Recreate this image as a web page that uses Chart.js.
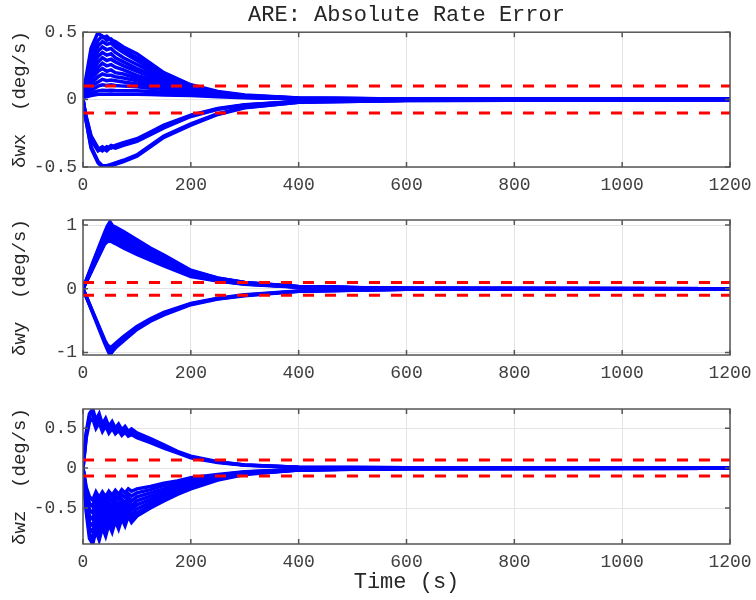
<!DOCTYPE html>
<html>
<head>
<meta charset="utf-8">
<script src="https://cdn.jsdelivr.net/npm/chart.js@4.4.0/dist/chart.umd.min.js"></script>
<style>
  html, body { margin: 0; padding: 0; background: #fff; }
  .panel { position: absolute; left: 0; width: 756px; }
</style>
</head>
<body>
<div class="panel" style="top:0;height:195px"><canvas id="cx"></canvas></div>
<div class="panel" style="top:195px;height:185px"><canvas id="cy"></canvas></div>
<div class="panel" style="top:380px;height:220px"><canvas id="cz"></canvas></div>
<script>
// time grids (s)
const timeX = [0, 5, 15, 28, 36, 44, 52, 60, 75, 100, 125, 150, 200, 250, 300, 400, 600, 1200];
const timeY = [0, 20, 40, 45, 50, 55, 60, 75, 100, 125, 150, 200, 250, 300, 400, 600, 1200];
const timeZ = [0, 6, 12, 18, 24, 30, 36, 42, 48, 54, 60, 66, 72, 78, 84, 90, 100, 125, 150, 175, 200, 250, 300, 400, 600, 1200];

// δwx runs (deg/s)
const wxRuns = [
  [0.02, 0.15, 0.38, 0.50, 0.46, 0.47, 0.44, 0.43, 0.39, 0.34, 0.27, 0.20, 0.11, 0.06, 0.035, 0.012, 0.004, 0.002],
  [0.02, 0.12, 0.33, 0.44, 0.47, 0.44, 0.45, 0.42, 0.37, 0.31, 0.25, 0.19, 0.10, 0.055, 0.03, 0.011, 0.004, 0.002],
  [0.02, 0.10, 0.29, 0.40, 0.43, 0.41, 0.42, 0.39, 0.35, 0.29, 0.23, 0.17, 0.095, 0.05, 0.028, 0.01, 0.004, 0.002],
  [0.02, 0.09, 0.26, 0.36, 0.39, 0.37, 0.38, 0.35, 0.31, 0.26, 0.21, 0.16, 0.09, 0.05, 0.027, 0.01, 0.004, 0.002],
  [0.02, 0.08, 0.23, 0.32, 0.35, 0.33, 0.34, 0.31, 0.28, 0.23, 0.19, 0.145, 0.085, 0.045, 0.025, 0.009, 0.003, 0.002],
  [0.02, 0.07, 0.20, 0.28, 0.31, 0.29, 0.30, 0.28, 0.25, 0.21, 0.17, 0.13, 0.08, 0.043, 0.024, 0.009, 0.003, 0.002],
  [0.02, 0.06, 0.17, 0.24, 0.27, 0.25, 0.26, 0.24, 0.22, 0.18, 0.15, 0.12, 0.075, 0.04, 0.022, 0.008, 0.003, 0.002],
  [0.02, 0.05, 0.15, 0.21, 0.23, 0.21, 0.22, 0.20, 0.19, 0.16, 0.13, 0.105, 0.07, 0.038, 0.021, 0.008, 0.003, 0.002],
  [0.02, 0.05, 0.12, 0.17, 0.19, 0.18, 0.18, 0.17, 0.16, 0.14, 0.115, 0.095, 0.065, 0.036, 0.02, 0.008, 0.003, 0.002],
  [0.02, 0.04, 0.10, 0.13, 0.15, 0.14, 0.145, 0.14, 0.13, 0.115, 0.10, 0.085, 0.06, 0.034, 0.019, 0.007, 0.003, 0.002],
  [0.02, 0.03, 0.07, 0.10, 0.11, 0.105, 0.11, 0.105, 0.10, 0.095, 0.085, 0.075, 0.055, 0.032, 0.018, 0.007, 0.003, 0.002],
  [0.02, 0.03, 0.05, 0.065, 0.07, 0.068, 0.07, 0.068, 0.066, 0.065, 0.06, 0.055, 0.045, 0.03, 0.017, 0.007, 0.003, 0.002],
  [0.02, 0.02, 0.03, 0.04, 0.04, 0.04, 0.042, 0.04, 0.04, 0.04, 0.038, 0.035, 0.03, 0.022, 0.014, 0.006, 0.003, 0.002],
  [0.0, -0.12, -0.28, -0.37, -0.35, -0.37, -0.34, -0.35, -0.33, -0.30, -0.25, -0.20, -0.12, -0.07, -0.04, -0.015, -0.005, -0.002],
  [0.0, -0.11, -0.27, -0.36, -0.38, -0.35, -0.36, -0.34, -0.32, -0.29, -0.24, -0.19, -0.115, -0.065, -0.038, -0.014, -0.005, -0.002],
  [0.0, -0.13, -0.30, -0.38, -0.36, -0.38, -0.35, -0.36, -0.34, -0.31, -0.26, -0.21, -0.125, -0.072, -0.042, -0.015, -0.005, -0.002],
  [0.0, -0.14, -0.36, -0.47, -0.50, -0.50, -0.49, -0.48, -0.46, -0.42, -0.35, -0.28, -0.19, -0.11, -0.06, -0.02, -0.006, -0.002],
  [0.0, -0.14, -0.35, -0.46, -0.49, -0.49, -0.48, -0.47, -0.45, -0.41, -0.34, -0.27, -0.18, -0.105, -0.058, -0.02, -0.006, -0.002]
];

// δwy runs (deg/s)
const wyRuns = [
  [0, 0.45, 0.88, 0.98, 1.05, 0.99, 0.97, 0.90, 0.77, 0.64, 0.53, 0.29, 0.17, 0.10, 0.035, 0.005, 0.002],
  [0, 0.43, 0.85, 0.95, 1.00, 0.97, 0.94, 0.87, 0.74, 0.62, 0.51, 0.28, 0.165, 0.097, 0.033, 0.005, 0.002],
  [0, 0.41, 0.82, 0.92, 0.96, 0.93, 0.90, 0.83, 0.71, 0.59, 0.48, 0.27, 0.16, 0.093, 0.031, 0.005, 0.002],
  [0, 0.40, 0.80, 0.89, 0.93, 0.90, 0.87, 0.80, 0.68, 0.56, 0.46, 0.25, 0.15, 0.088, 0.03, 0.005, 0.002],
  [0, 0.39, 0.78, 0.86, 0.90, 0.87, 0.84, 0.77, 0.65, 0.54, 0.44, 0.24, 0.145, 0.085, 0.029, 0.005, 0.002],
  [0, 0.38, 0.76, 0.83, 0.86, 0.83, 0.80, 0.73, 0.62, 0.51, 0.42, 0.23, 0.14, 0.082, 0.028, 0.005, 0.002],
  [0, 0.37, 0.74, 0.80, 0.82, 0.79, 0.77, 0.70, 0.59, 0.49, 0.40, 0.22, 0.13, 0.078, 0.027, 0.005, 0.002],
  [0, 0.36, 0.72, 0.77, 0.78, 0.76, 0.74, 0.67, 0.56, 0.47, 0.38, 0.21, 0.125, 0.075, 0.026, 0.005, 0.002],
  [0, 0.35, 0.70, 0.74, 0.75, 0.73, 0.71, 0.64, 0.54, 0.45, 0.36, 0.19, 0.12, 0.07, 0.025, 0.005, 0.002],
  [0, -0.42, -0.85, -0.95, -1.04, -0.98, -0.93, -0.82, -0.64, -0.51, -0.41, -0.25, -0.16, -0.11, -0.04, -0.006, -0.002],
  [0, -0.41, -0.82, -0.91, -0.96, -0.93, -0.89, -0.78, -0.61, -0.49, -0.39, -0.24, -0.155, -0.10, -0.038, -0.006, -0.002],
  [0, -0.40, -0.80, -0.88, -0.92, -0.90, -0.86, -0.75, -0.59, -0.47, -0.37, -0.23, -0.15, -0.095, -0.036, -0.006, -0.002]
];

// δwz runs (deg/s)
const wzRuns = [
  [0, 0.45, 0.68, 0.74, 0.60, 0.68, 0.55, 0.62, 0.52, 0.58, 0.50, 0.55, 0.48, 0.52, 0.46, 0.49, 0.44, 0.37, 0.29, 0.21, 0.15, 0.08, 0.04, 0.012, 0.003, 0.001],
  [0, 0.42, 0.64, 0.70, 0.56, 0.64, 0.52, 0.59, 0.49, 0.55, 0.47, 0.52, 0.45, 0.49, 0.43, 0.46, 0.41, 0.34, 0.27, 0.20, 0.14, 0.075, 0.038, 0.011, 0.003, 0.001],
  [0, 0.38, 0.58, 0.62, 0.50, 0.57, 0.46, 0.53, 0.44, 0.50, 0.43, 0.47, 0.41, 0.45, 0.40, 0.42, 0.38, 0.32, 0.25, 0.19, 0.13, 0.07, 0.035, 0.01, 0.003, 0.001],
  [0, -0.55, -0.88, -0.95, -0.78, -0.90, -0.74, -0.85, -0.70, -0.80, -0.66, -0.76, -0.63, -0.72, -0.60, -0.68, -0.60, -0.50, -0.41, -0.33, -0.26, -0.15, -0.08, -0.025, -0.006, -0.002],
  [0, -0.50, -0.82, -0.88, -0.72, -0.84, -0.69, -0.80, -0.66, -0.75, -0.62, -0.71, -0.59, -0.67, -0.56, -0.63, -0.56, -0.47, -0.38, -0.31, -0.24, -0.14, -0.075, -0.023, -0.006, -0.002],
  [0, -0.45, -0.75, -0.80, -0.65, -0.76, -0.62, -0.72, -0.60, -0.68, -0.57, -0.64, -0.54, -0.61, -0.52, -0.58, -0.51, -0.43, -0.35, -0.28, -0.22, -0.13, -0.07, -0.022, -0.006, -0.002],
  [0, -0.40, -0.68, -0.72, -0.58, -0.68, -0.56, -0.65, -0.54, -0.61, -0.51, -0.58, -0.49, -0.55, -0.47, -0.52, -0.46, -0.39, -0.32, -0.26, -0.20, -0.12, -0.065, -0.02, -0.005, -0.002],
  [0, -0.36, -0.60, -0.64, -0.51, -0.60, -0.50, -0.58, -0.48, -0.55, -0.46, -0.52, -0.44, -0.49, -0.42, -0.47, -0.41, -0.35, -0.29, -0.23, -0.18, -0.11, -0.06, -0.019, -0.005, -0.002],
  [0, -0.32, -0.52, -0.56, -0.44, -0.52, -0.43, -0.50, -0.42, -0.48, -0.40, -0.46, -0.39, -0.44, -0.37, -0.41, -0.36, -0.31, -0.26, -0.21, -0.16, -0.10, -0.055, -0.018, -0.005, -0.002],
  [0, -0.28, -0.44, -0.48, -0.36, -0.44, -0.36, -0.43, -0.35, -0.41, -0.34, -0.39, -0.33, -0.37, -0.32, -0.35, -0.31, -0.27, -0.22, -0.18, -0.14, -0.09, -0.05, -0.016, -0.005, -0.002],
  [0, -0.24, -0.36, -0.40, -0.30, -0.37, -0.30, -0.36, -0.29, -0.34, -0.28, -0.33, -0.27, -0.31, -0.26, -0.29, -0.26, -0.23, -0.19, -0.16, -0.12, -0.08, -0.045, -0.015, -0.005, -0.002]
];

// threshold lines
const boundTimes = [0, 1200];
const bounds = [0.1, -0.1];

const FONT = '"Liberation Mono", "DejaVu Sans Mono", monospace';
const INK = '#404040';

// box around plot area with inward ticks (MATLAB style)
const boxPlugin = {
  id: 'box',
  afterDraw(chart) {
    const { ctx, chartArea: a, scales } = chart;
    ctx.save();
    ctx.strokeStyle = '#555555';
    ctx.lineWidth = 1.5;
    ctx.strokeRect(a.left, a.top, a.right - a.left, a.bottom - a.top);
    ctx.beginPath();
    scales.x.ticks.forEach((t, i) => {
      const px = scales.x.getPixelForTick(i);
      ctx.moveTo(px, a.bottom); ctx.lineTo(px, a.bottom - 5);
      ctx.moveTo(px, a.top); ctx.lineTo(px, a.top + 5);
    });
    scales.y.ticks.forEach((t, i) => {
      const py = scales.y.getPixelForTick(i);
      ctx.moveTo(a.left, py); ctx.lineTo(a.left + 5, py);
      ctx.moveTo(a.right, py); ctx.lineTo(a.right - 5, py);
    });
    ctx.stroke();
    ctx.restore();
  }
};

function makeChart(id, times, runs, yMin, yMax, yTicks, yLabel, o) {
  const datasets = [];
  bounds.forEach(b => {
    datasets.push({
      data: boundTimes.map(t => ({ x: t, y: b })),
      borderColor: '#ff0000',
      borderWidth: 3,
      borderDash: [11, 11],
      pointRadius: 0
    });
  });
  runs.forEach(r => {
    datasets.push({
      data: times.map((t, i) => ({ x: t, y: r[i] })),
      borderColor: '#0000ff',
      borderWidth: 3.5,
      pointRadius: 0
    });
  });

  new Chart(document.getElementById(id), {
    type: 'line',
    data: { datasets: datasets },
    plugins: [boxPlugin],
    options: {
      responsive: true,
      maintainAspectRatio: false,
      animation: false,
      layout: { padding: { top: o.top, right: 26, left: 0, bottom: 0 } },
      plugins: {
        legend: { display: false },
        tooltip: { enabled: false },
        title: {
          display: !!o.title,
          text: o.title || '',
          fullSize: false,
          color: '#262626',
          font: { family: FONT, size: 22, weight: 'normal', lineHeight: 1.1 },
          padding: { top: 3, bottom: 5 }
        }
      },
      scales: {
        x: {
          type: 'linear',
          min: 0,
          max: 1200,
          afterFit(s) { s.height = o.xHeight; s.paddingLeft = 0; s.paddingRight = 0; },
          ticks: { stepSize: 200, color: INK, padding: 7, maxRotation: 0,
                   callback: v => String(v),
                   font: { family: FONT, size: 18 } },
          grid: { color: '#e4e4e4', drawTicks: false },
          border: { display: false },
          title: {
            display: !!o.xLabel,
            text: o.xLabel || '',
            color: '#262626',
            font: { family: FONT, size: 22 },
            padding: { top: 0, bottom: 5 }
          }
        },
        y: {
          min: yMin,
          max: yMax,
          afterFit(s) { s.width = 83; },
          afterBuildTicks(s) { s.ticks = yTicks.map(v => ({ value: v })); },
          ticks: { color: INK, padding: 6, callback: v => String(v),
                   font: { family: FONT, size: 18 } },
          grid: { color: '#e4e4e4', drawTicks: false },
          border: { display: false },
          title: {
            display: true,
            text: yLabel,
            color: '#262626',
            font: { family: FONT, size: 19 },
            padding: { top: 9, bottom: 0 }
          }
        }
      }
    }
  });
}

makeChart('cx', timeX, wxRuns, -0.5, 0.5, [-0.5, 0, 0.5], 'δwx  (deg/s)',
  { top: 0, xHeight: 28, title: 'ARE: Absolute Rate Error' });
makeChart('cy', timeY, wyRuns, -1.04, 1.08, [-1, 0, 1], 'δwy  (deg/s)',
  { top: 25, xHeight: 25 });
makeChart('cz', timeZ, wzRuns, -0.95, 0.74, [-0.5, 0, 0.5], 'δwz  (deg/s)',
  { top: 29, xHeight: 56, xLabel: 'Time (s)' });
</script>
</body>
</html>
